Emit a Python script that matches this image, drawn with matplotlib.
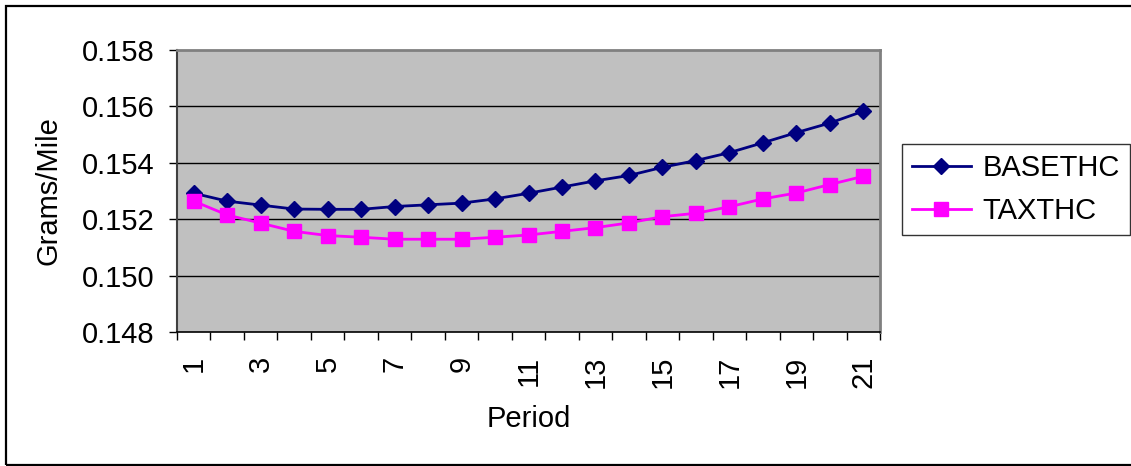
import matplotlib
matplotlib.use("Agg")
import matplotlib.pyplot as plt
from matplotlib.patches import Rectangle
import numpy as np

plt.rcParams['font.family'] = ['Liberation Sans', 'DejaVu Sans']

periods = list(range(1, 22))
basethc = [0.15292, 0.15264, 0.15250, 0.15236, 0.15235, 0.15235, 0.15245,
           0.15251, 0.15257, 0.15272, 0.15292, 0.15314, 0.15336, 0.15355,
           0.15384, 0.15408, 0.15436, 0.15471, 0.15507, 0.15541, 0.15583]
taxthc = [0.15264, 0.15215, 0.15186, 0.15157, 0.15142, 0.15136, 0.15129,
          0.15129, 0.15129, 0.15136, 0.15144, 0.15157, 0.15170, 0.15187,
          0.15209, 0.15221, 0.15244, 0.15272, 0.15293, 0.15323, 0.15352]
y_ticks = [0.148, 0.150, 0.152, 0.154, 0.156, 0.158]
x_labels = [str(p) for p in periods if p % 2 == 1]

W, H = 1131, 466
FS = 21
fig = plt.figure(figsize=(W / 100, H / 100), dpi=100)

# outer chart border
fig.patches.append(Rectangle((6 / W, 1 - 465 / H), 1.2, (465 - 6) / H,
                             transform=fig.transFigure, fill=False,
                             edgecolor='black', linewidth=1.6, clip_on=False))

ax = fig.add_axes([177 / W, 1 - 332 / H, (880 - 177) / W, (332 - 50) / H])
ax.set_facecolor('#C0C0C0')

ax.plot(periods, basethc, color='#000080', linewidth=2.0, marker='D',
        markersize=8.5, label='BASETHC', zorder=3)
ax.plot(periods, taxthc, color='#FF00FF', linewidth=2.0, marker='s',
        markersize=9.5, label='TAXTHC', zorder=3)

ax.set_xlim(0.5, 21.5)
ax.set_ylim(0.148, 0.158)
ax.set_yticks(y_ticks)
ax.set_yticklabels([f"{v:.3f}" for v in y_ticks], fontsize=FS)
for v in y_ticks[1:-1]:
    ax.axhline(v, color='black', linewidth=1.0, zorder=1)

# ticks at category boundaries, labels on odd periods
ax.set_xticks(np.arange(0.5, 22.0, 1.0))
ax.set_xticklabels([])
ax.set_xticks([p for p in periods if p % 2 == 1], minor=True)
ax.set_xticklabels(x_labels, minor=True, rotation=90, fontsize=FS)
ax.tick_params(axis='x', which='major', direction='out', length=6, width=1.0)
ax.tick_params(axis='x', which='minor', length=0, pad=17)
ax.tick_params(axis='y', direction='out', length=6, width=1.0, pad=10)

for side in ('top', 'right'):
    ax.spines[side].set_color('#808080')
    ax.spines[side].set_linewidth(2.0)
ax.spines['left'].set_color('#404040')
ax.spines['left'].set_linewidth(1.5)
ax.spines['bottom'].set_color('black')
ax.spines['bottom'].set_linewidth(1.2)

ax.set_xlabel('Period', fontsize=FS, labelpad=12)
ax.set_ylabel('Grams/Mile', fontsize=FS, labelpad=14)

leg = ax.legend(loc='upper left', bbox_to_anchor=(902 / W, 1 - 144 / H),
                bbox_transform=fig.transFigure, borderaxespad=0,
                fontsize=FS, frameon=True, fancybox=False, shadow=False,
                handlelength=2.0, handletextpad=0.4, borderpad=0.35,
                labelspacing=0.5)
leg.get_frame().set_edgecolor('black')
leg.get_frame().set_linewidth(1.0)

fig.savefig('out.png', dpi=100)
